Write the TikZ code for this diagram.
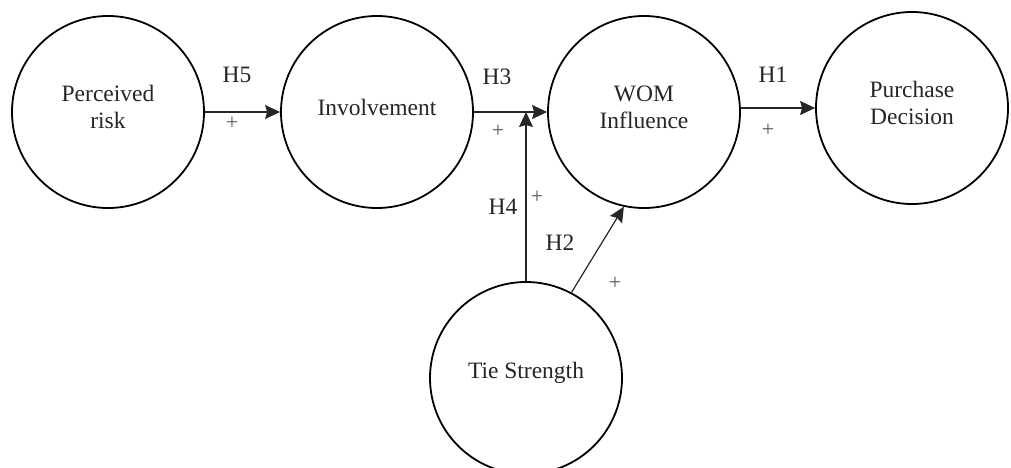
\documentclass[tikz,border=0pt]{standalone}
\usepackage{fontspec}
\setmainfont{Liberation Serif}
\usetikzlibrary{arrows.meta}
\begin{document}
\begin{tikzpicture}[x=1pt,y=-1pt,
  construct/.style={circle,draw=black,line width=1.8pt,minimum size=192pt,inner sep=0pt},
  ctext/.style={label={[yshift=5pt,align=center,text=black!85,font=\fontsize{23.5}{27}\selectfont]center:#1}},
  arr/.style={draw=black!85,line width=1.2pt,-{Stealth[length=15pt,width=14pt,inset=2pt]}},
  hyp/.style={text=black!85,font=\fontsize{23.5}{27}\selectfont,inner sep=0pt},
  sign/.style={text=black!65,font=\fontsize{22}{26}\selectfont,inner sep=0pt}]
\useasboundingbox (0,0) rectangle (1011,468);
\node[construct,ctext={Perceived\\risk}] (pr) at (108,112) {};
\node[construct,ctext={Involvement}] (inv) at (377,112) {};
\node[construct,ctext={WOM\\Influence}] (wom) at (644,112) {};
\node[construct,ctext={Purchase\\Decision}] (pd) at (912,108) {};
\node[construct,ctext={Tie Strength}] (ts) at (526,378) {};
\coordinate (j) at (ts.north |- inv.east);
\draw[arr] (pr.east) -- (inv.west);
\draw[arr] (inv.east) -- (wom.west);
\draw[arr] (wom.east |- pd.west) -- (pd.west);
\draw[arr] (ts.north) -- (j);
\draw[arr] (ts.62.7) -- (wom.258);
\node[hyp] (h5) at (237,75) {H5};
\node[sign] (p5) at (232,123) {+};
\node[hyp] (h3) at (497,77) {H3};
\node[sign] (p3) at (498,131) {+};
\node[hyp] (h1) at (773,75) {H1};
\node[sign] (p1) at (768,130) {+};
\node[hyp] (h4) at (503,207) {H4};
\node[sign] (p4) at (537,197) {+};
\node[hyp] (h2) at (560,243) {H2};
\node[sign] (p2) at (615,283) {+};
\end{tikzpicture}
\end{document}
